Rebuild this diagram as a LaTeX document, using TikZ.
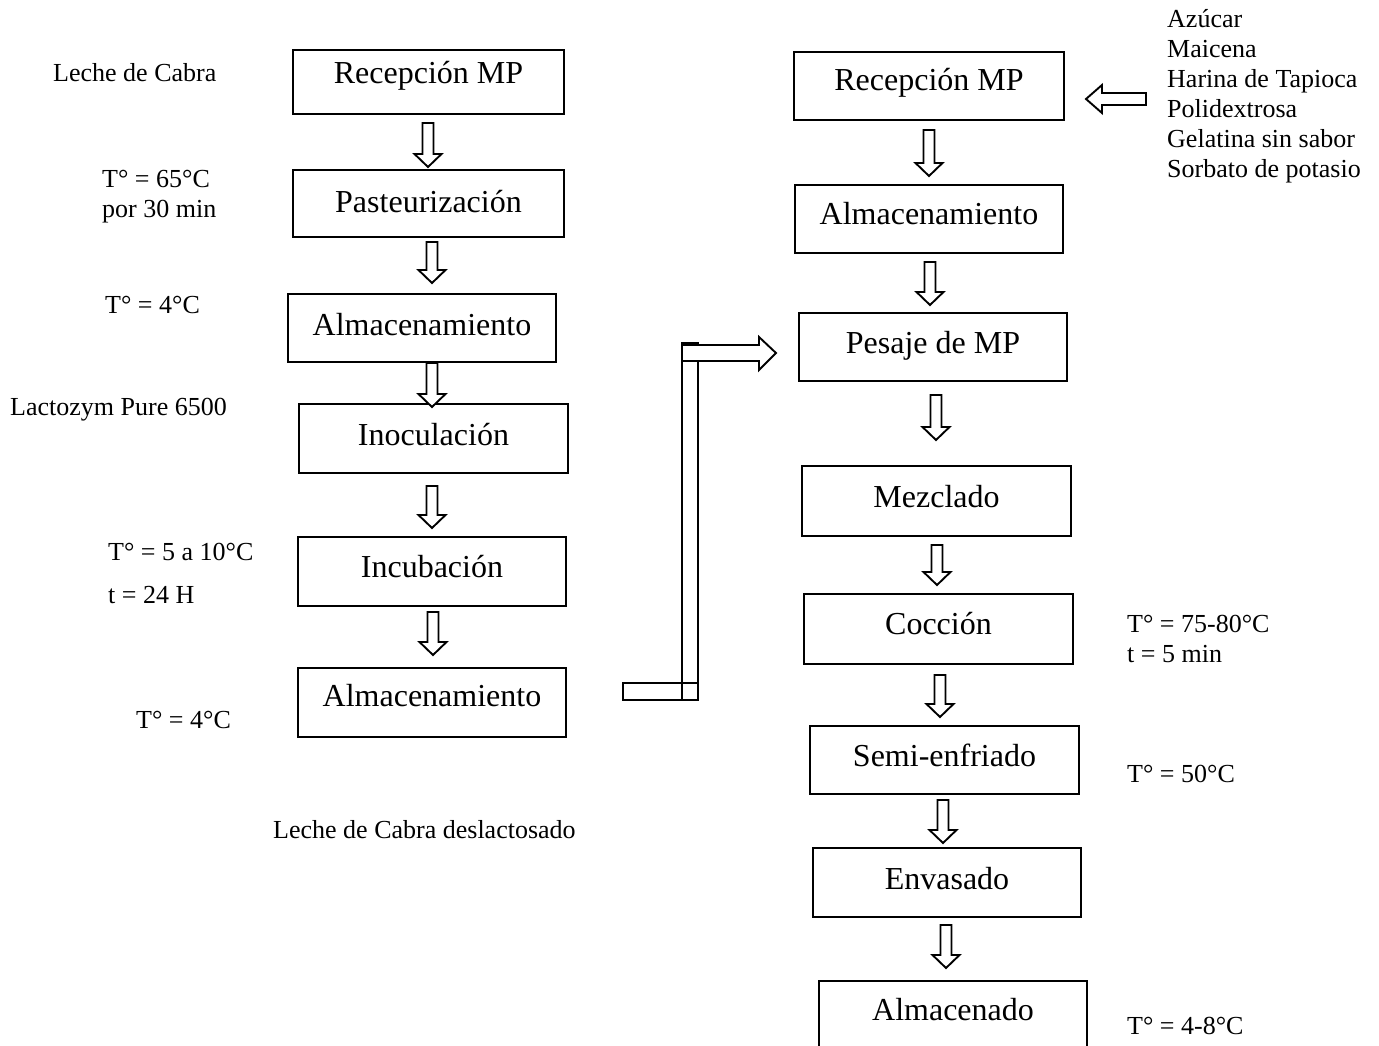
\documentclass[tikz,border=0pt]{standalone}
\usepackage{fontspec}
\setmainfont{Liberation Serif}
\begin{document}
\begin{tikzpicture}[x=1pt,y=-1pt,
  box/.style={draw, line width=1.4pt, inner sep=0pt},
  boxtext/.style={font=\fontsize{32}{36}\selectfont, inner sep=0pt, anchor=base},
  side/.style={font=\fontsize{26}{30}\selectfont, inner sep=0pt, anchor=base west},
  blk/.style={draw, line width=1.9pt, fill=white, line join=miter}]
\useasboundingbox (0,0) rectangle (1379,1046);
% down block arrow: x, ytop, ytip
\newcommand\dnarrow[3]{%
  \draw[blk] (#1-5.5,#2) -- (#1+5.5,#2) -- (#1+5.5,#3-13) -- (#1+13.5,#3-13) -- (#1,#3)
    -- (#1-13.5,#3-13) -- (#1-5.5,#3-13) -- cycle;}
% left column
\node[box, minimum width=271, minimum height=64] (l1) at (428.5,82) {};
\node[boxtext] (l1t) at (428.5,84) {Recepción MP};
\node[box, minimum width=271, minimum height=67] (l2) at (428.5,203.5) {};
\node[boxtext] (l2t) at (428.5,212) {Pasteurización};
\node[box, minimum width=268, minimum height=68] (l3) at (422,328) {};
\node[boxtext] (l3t) at (422,335) {Almacenamiento};
\node[box, minimum width=269, minimum height=69] (l4) at (433.5,438.5) {};
\node[boxtext] (l4t) at (433.5,445) {Inoculación};
\node[box, minimum width=268, minimum height=69] (l5) at (432,571.5) {};
\node[boxtext] (l5t) at (432,577) {Incubación};
\node[box, minimum width=268, minimum height=69] (l6) at (432,702.5) {};
\node[boxtext] (l6t) at (432,706) {Almacenamiento};
% right column
\node[box, minimum width=270, minimum height=68] (r1) at (929,86) {};
\node[boxtext] (r1t) at (929,91) {Recepción MP};
\node[box, minimum width=268, minimum height=68] (r2) at (929,219) {};
\node[boxtext] (r2t) at (929,224) {Almacenamiento};
\node[box, minimum width=268, minimum height=68] (r3) at (933,347) {};
\node[boxtext] (r3t) at (933,353) {Pesaje de MP};
\node[box, minimum width=269, minimum height=70] (r4) at (936.5,501) {};
\node[boxtext] (r4t) at (936.5,507) {Mezclado};
\node[box, minimum width=269, minimum height=70] (r5) at (938.5,629) {};
\node[boxtext] (r5t) at (938.5,634) {Cocción};
\node[box, minimum width=269, minimum height=68] (r6) at (944.5,760) {};
\node[boxtext] (r6t) at (944.5,766) {Semi-enfriado};
\node[box, minimum width=268, minimum height=69] (r7) at (947,882.5) {};
\node[boxtext] (r7t) at (947,889) {Envasado};
\node[box, minimum width=268, minimum height=100] (r8) at (953,1031) {};
\node[boxtext] (r8t) at (953,1020) {Almacenado};
% arrows left
\dnarrow{428}{123}{167}
\dnarrow{432}{242}{283}
\dnarrow{432}{363}{407}
\dnarrow{432}{486}{528}
\dnarrow{433}{612}{655}
% arrows right
\dnarrow{929}{130}{176}
\dnarrow{930}{262}{305}
\dnarrow{936}{395}{440}
\dnarrow{937}{545}{585}
\dnarrow{940}{675}{717}
\dnarrow{943}{800}{843}
\dnarrow{946}{925}{968}
% left-pointing arrow
\draw[blk] (1146,93) -- (1146,105) -- (1102,105) -- (1102,113) -- (1086,99) -- (1102,85) -- (1102,93) -- cycle;
% L connector
\draw[blk] (623,683) rectangle (698,700);
\draw[blk] (682,343) rectangle (698,700);
\draw[blk] (682,345) -- (759,345) -- (759,337) -- (776,353) -- (759,370) -- (759,361) -- (682,361) -- cycle;
\draw[line width=1.9pt] (682,683) -- (698,683);
% side texts left
\node[side] (s1) at (53,82) {Leche de Cabra};
\node[side] (s2) at (102,187) {T° = 65°C};
\node[side] (s3) at (102,217) {por 30 min};
\node[side] (s4) at (105,313) {T° = 4°C};
\node[side] (s5) at (10,415) {Lactozym Pure 6500};
\node[side] (s6) at (108,560) {T° = 5 a 10°C};
\node[side] (s7) at (108,603) {t = 24 H};
\node[side] (s8) at (136,728) {T° = 4°C};
\node[side] (s9) at (273,838) {Leche de Cabra deslactosado};
% side texts right
\node[side] (i1) at (1167,28) {Azúcar};
\node[side] (i2) at (1167,58) {Maicena};
\node[side] (i3) at (1167,88) {Harina de Tapioca};
\node[side] (i4) at (1167,118) {Polidextrosa};
\node[side] (i5) at (1167,148) {Gelatina sin sabor};
\node[side] (i6) at (1167,178) {Sorbato de potasio};
\node[side] (c1) at (1127,632) {T° = 75-80°C};
\node[side] (c2) at (1127,662) {t = 5 min};
\node[side] (c3) at (1127,782) {T° = 50°C};
\node[side] (c4) at (1127,1034) {T° = 4-8°C};
\end{tikzpicture}
\end{document}
